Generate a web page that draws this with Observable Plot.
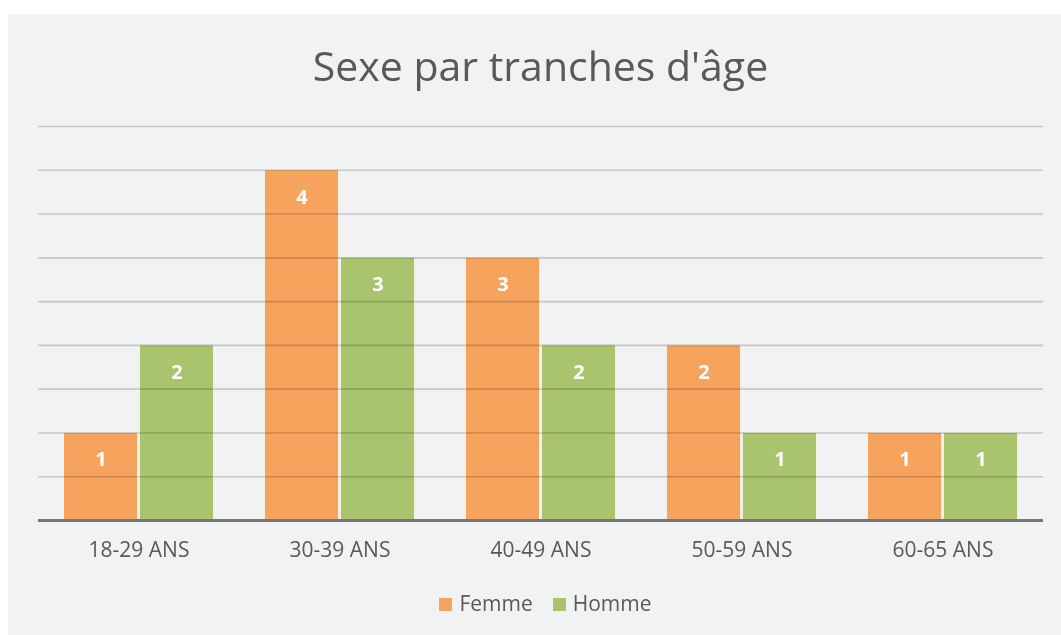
<!DOCTYPE html>
<html>
<head>
<meta charset="utf-8">
<script src="https://cdn.jsdelivr.net/npm/d3@7"></script>
<script src="https://cdn.jsdelivr.net/npm/@observablehq/plot@0.6"></script>
<style>
  html, body { margin: 0; padding: 0; background: #ffffff; }
  body { width: 1061px; height: 635px; position: relative; overflow: hidden; font-family: "Open Sans", "Noto Sans", sans-serif; }
  #panel { position: absolute; left: 8px; top: 14px; width: 1053px; height: 621px; background: #f1f2f4; }
  #title { position: absolute; left: 0; width: 1065px; top: 27px; text-align: center; font-size: 41px; color: #595959; line-height: 1.2; }
  #chart { position: absolute; left: 0; top: 72px; }
  #legend { position: absolute; left: 0; width: 1075px; top: 577px; text-align: center; font-size: 21px; color: #595959; line-height: 1.2; }
  #legend span.sw { display: inline-block; width: 13px; height: 13px; margin-right: 7px; vertical-align: 0px; }
  #legend span.item { margin: 0 10px; }
</style>
</head>
<body>
<div id="panel">
  <div id="title">Sexe par tranches d'âge</div>
  <div id="chart"></div>
  <div id="legend"></div>
</div>
<script>
const categories = ["18-29 ANS", "30-39 ANS", "40-49 ANS", "50-59 ANS", "60-65 ANS"];
const series = ["Femme", "Homme"];
const femme = [1, 4, 3, 2, 1];
const homme = [2, 3, 2, 1, 1];
const colors = ["#f6a35e", "#a9c46d"];
const yTicks = [0.5, 1, 1.5, 2, 2.5, 3, 3.5, 4, 4.5];

const data = [];
categories.forEach((c, i) => {
  data.push({category: c, sex: series[0], value: femme[i]});
  data.push({category: c, sex: series[1], value: homme[i]});
});

const chart = Plot.plot({
  width: 1053,
  height: 480,
  marginLeft: 29,
  marginRight: 18,
  marginTop: 40,
  marginBottom: 46,
  style: {background: "transparent", fontFamily: "'Open Sans', 'Noto Sans', sans-serif"},
  fx: {domain: categories, padding: 0, label: null},
  x: {domain: series, axis: null, paddingInner: 0.01, paddingOuter: 0.32},
  y: {domain: [0, 4.5], axis: null},
  color: {domain: series, range: colors},
  marks: [
    Plot.barY(data, {fx: "category", x: "sex", y: "value", fill: "sex", stroke: "#f7efe6", strokeWidth: 1, insetLeft: 0.5, insetRight: 0.5}),
    Plot.ruleY(yTicks, {stroke: "#d2d2d2", strokeWidth: 1.6, mixBlendMode: "multiply"}),
    Plot.ruleY([0], {stroke: "#767676", strokeWidth: 3}),
    Plot.text(data, {fx: "category", x: "sex", y: "value", text: d => String(d.value), fill: "white", fontWeight: "bold", fontSize: 20, dy: 27}),
    Plot.axisFx({anchor: "bottom", tickSize: 0, tickPadding: 22, fontSize: 21, color: "#595959", label: null})
  ]
});
document.getElementById("chart").appendChild(chart);

const legend = document.getElementById("legend");
series.forEach((s, i) => {
  const item = document.createElement("span");
  item.className = "item";
  const sw = document.createElement("span");
  sw.className = "sw";
  sw.style.background = colors[i];
  item.appendChild(sw);
  item.appendChild(document.createTextNode(s));
  legend.appendChild(item);
});
</script>
</body>
</html>
